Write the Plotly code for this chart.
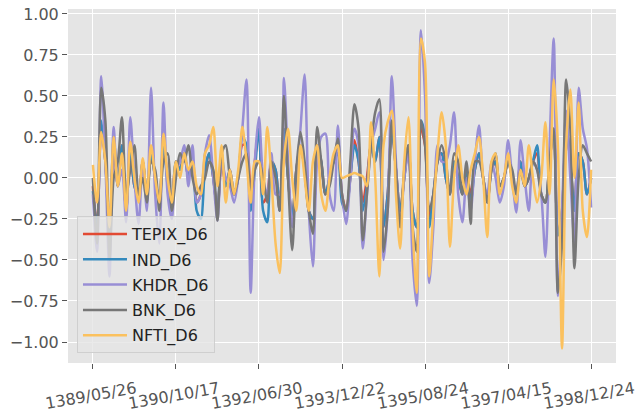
import plotly.graph_objects as go

# sample positions (trading-day index) and date tick labels
x_index = list(range(0, 1801, 15))
tick_pos = [0, 300, 600, 900, 1200, 1500, 1800]
tick_labels = ["1389/05/26", "1390/10/17", "1392/06/30", "1393/12/22",
               "1395/08/24", "1397/04/15", "1398/12/24"]

TEPIX_D6 = [-0.05, -0.3, 0.3, 0.1, -0.35, 0.2, -0.05, 0.2, -0.2, 0.15,
            -0.05, -0.1, 0.1, -0.1, 0.15, 0.0, -0.15, 0.2, 0.0, -0.15,
            0.1, 0.05, 0.15, 0.0, 0.1, -0.15, -0.1, 0.05, 0.15, 0.0,
            -0.2, 0.1, -0.05, 0.05, -0.1, 0.0, 0.2, 0.2, -0.15, 0.1,
            0.3, -0.15, -0.1, 0.1, 0.05, -0.2, 0.3, 0.0, -0.25, 0.05,
            0.2, 0.05, -0.2, -0.25, 0.2, 0.1, -0.1, 0.0, 0.1, 0.15,
            -0.1, -0.2, 0.0, 0.23, 0.1, -0.15, 0.0, 0.2, 0.1, 0.25,
            -0.3, -0.1, 0.3, 0.05, -0.2, 0.0, 0.2, -0.2, -0.3, 0.3,
            0.2, -0.25, -0.1, 0.1, 0.15, 0.0, -0.1, 0.1, 0.0, -0.1,
            0.05, -0.1, 0.05, 0.15, 0.0, -0.15, 0.05, 0.1, -0.05, 0.0,
            0.1, 0.0, -0.1, 0.1, -0.05, 0.0, 0.1, 0.15, -0.1, -0.15,
            0.1, 0.3, -0.35, -0.2, 0.3, 0.1, -0.2, 0.15, 0.1, -0.1,
            0.0]
IND_D6 = [-0.08, -0.3, 0.35, 0.1, -0.35, 0.25, -0.05, 0.2, -0.2, 0.15,
          -0.05, -0.12, 0.1, -0.1, 0.15, 0.0, -0.15, 0.22, -0.05, -0.2,
          0.1, 0.05, 0.15, 0.0, 0.1, -0.2, -0.25, 0.05, 0.15, 0.0,
          -0.2, 0.15, -0.05, 0.05, -0.1, 0.0, 0.25, 0.2, -0.2, 0.05,
          0.3, -0.2, -0.27, 0.1, 0.05, -0.2, 0.3, 0.0, -0.25, 0.05,
          0.2, 0.05, -0.2, -0.25, 0.2, 0.1, -0.1, 0.0, 0.1, 0.15,
          -0.15, -0.2, 0.0, 0.2, 0.1, -0.2, -0.05, 0.2, 0.1, 0.25,
          -0.3, -0.1, 0.3, 0.05, -0.2, 0.0, 0.2, -0.2, -0.3, 0.35,
          0.25, -0.3, -0.1, 0.1, 0.15, 0.0, -0.1, 0.1, 0.0, -0.1,
          0.05, -0.15, 0.05, 0.15, 0.0, -0.15, 0.05, 0.1, -0.05, 0.0,
          0.1, 0.0, -0.1, 0.1, -0.05, 0.0, 0.1, 0.2, -0.1, -0.15,
          0.1, 0.3, -0.35, -0.2, 0.3, 0.1, -0.2, 0.15, 0.1, -0.1,
          0.0]
KHDR_D6 = [-0.1, -0.45, 0.62, 0.1, -0.6, 0.31, -0.05, 0.05, -0.27, 0.37,
           0.0, -0.28, 0.1, -0.2, 0.55, -0.1, -0.4, 0.46, -0.1, -0.25,
           0.05, 0.1, 0.2, -0.05, 0.2, -0.15, -0.1, 0.15, 0.26, 0.0,
           -0.26, 0.1, 0.0, -0.05, -0.15, 0.0, 0.3, 0.6, -0.7, 0.1,
           0.37, 0.0, -0.1, 0.15, -0.1, -0.1, 0.61, 0.1, -0.3, 0.0,
           0.3, 0.63, -0.2, -0.54, 0.1, 0.25, 0.27, -0.1, -0.2, 0.32,
           -0.1, -0.28, 0.0, 0.3, 0.2, -0.43, -0.1, 0.2, 0.3, 0.4,
           -0.5, -0.2, 0.62, 0.1, -0.3, 0.0, 0.15, -0.5, -0.78, 0.9,
           0.5, -0.64, -0.3, 0.2, 0.1, 0.1, 0.2, 0.4, -0.1, -0.27,
           0.0, -0.2, 0.1, 0.32, 0.0, -0.1, 0.1, 0.0, -0.15, -0.05,
           0.23, 0.0, -0.21, 0.23, 0.0, -0.2, 0.1, 0.05, -0.1, -0.48,
           0.2, 0.85, -0.72, -0.2, 0.41, 0.0, -0.39, 0.55, 0.3, 0.18,
           -0.18]
BNK_D6 = [0.0, -0.4, 0.55, 0.35, -0.5, 0.0, 0.1, 0.37, -0.1, 0.05,
          0.2, -0.1, 0.0, -0.15, 0.1, 0.05, -0.2, 0.1, 0.15, -0.2,
          0.0, 0.15, 0.1, 0.2, 0.0, -0.1, -0.05, 0.0, 0.1, 0.05,
          -0.26, 0.15, 0.2, 0.0, -0.1, 0.0, 0.1, 0.15, -0.1, 0.05,
          0.1, 0.0, -0.15, 0.1, 0.0, -0.2, 0.5, 0.0, -0.44, 0.05,
          0.28, 0.1, -0.2, -0.34, 0.31, 0.1, -0.1, -0.05, 0.1, 0.24,
          -0.1, -0.2, 0.1, 0.45, 0.3, -0.38, -0.1, 0.2, 0.4, 0.48,
          -0.45, -0.2, 0.35, 0.05, -0.3, 0.05, 0.2, -0.3, -0.45, 0.35,
          0.2, -0.2, -0.1, 0.1, 0.2, 0.1, -0.1, 0.15, 0.1, -0.1,
          0.1, -0.28, 0.1, 0.1, 0.0, -0.15, 0.05, 0.15, -0.05, 0.0,
          0.1, 0.05, -0.1, 0.05, -0.05, 0.0, 0.1, 0.05, -0.1, -0.15,
          0.1, 0.3, -0.7, -0.4, 0.6, 0.3, -0.55, 0.0, 0.2, 0.15,
          0.1]
NFTI_D6 = [0.08, -0.15, 0.28, 0.1, -0.3, 0.25, -0.05, 0.15, -0.2, 0.22,
           0.0, -0.15, 0.12, -0.1, 0.2, 0.0, -0.15, 0.27, 0.0, -0.15,
           0.1, 0.0, 0.15, 0.05, 0.1, -0.05, -0.1, 0.15, 0.2, 0.31,
           -0.05, 0.2, -0.15, 0.05, -0.1, 0.05, 0.31, 0.1, -0.15, 0.1,
           0.1, -0.1, 0.31, 0.0, -0.4, -0.58, 0.1, 0.3, 0.0, -0.2,
           0.2, 0.0, -0.2, 0.1, 0.2, -0.1, -0.2, 0.0, 0.15, 0.2,
           0.0, 0.01, 0.02, 0.03, 0.02, 0.01, -0.05, 0.34, 0.0, -0.6,
           0.2, 0.34, 0.41, -0.1, -0.43, 0.1, 0.37, -0.3, -0.7, 0.85,
           0.7, -0.6, -0.2, 0.15, 0.4, 0.2, -0.42, 0.0, 0.2, 0.0,
           -0.1, 0.05, 0.15, 0.25, 0.0, -0.36, 0.1, 0.15, -0.1, 0.0,
           0.15, -0.05, -0.15, 0.05, -0.05, 0.2, 0.0, -0.15, 0.0, 0.34,
           -0.1, 0.6, 0.2, -1.04, 0.2, 0.54, 0.0, 0.46, -0.2, -0.36,
           0.05]

series = [("TEPIX_D6", TEPIX_D6, "#E24A33"),
          ("IND_D6", IND_D6, "#348ABD"),
          ("KHDR_D6", KHDR_D6, "#988ED5"),
          ("BNK_D6", BNK_D6, "#777777"),
          ("NFTI_D6", NFTI_D6, "#FBC15E")]

fig = go.Figure()
for name, vals, col in series:
    fig.add_trace(go.Scatter(x=x_index, y=vals, mode="lines", name=name,
                             legendgroup=name,
                             line=dict(color=col, width=2.5, shape="spline", smoothing=0.8)))

font = "DejaVu Sans"
fig.update_layout(
    width=641, height=412,
    margin=dict(l=68, r=25, t=9, b=49),
    paper_bgcolor="white", plot_bgcolor="#E5E5E5",
    font=dict(family=font, size=16, color="#555555"),
    showlegend=True,
    legend=dict(x=0.0164, y=0.028, xanchor="left", yanchor="bottom",
                bgcolor="rgba(229,229,229,0.8)", bordercolor="rgba(204,204,204,0.9)",
                borderwidth=1, font=dict(family=font, size=16, color="#222222"),
                tracegroupgap=1.5, itemwidth=44),
)
fig.update_xaxes(range=[-90, 1890], tickvals=tick_pos, ticktext=tick_labels,
                 tickangle=-10, ticklabelshift=43, ticklabelstandoff=5,
                 automargin=False,
                 showgrid=True, gridcolor="white", gridwidth=1.3,
                 zeroline=False, ticks="outside", ticklen=5, tickcolor="#555555",
                 tickfont=dict(family=font, size=16, color="#555555"), showline=False)
fig.update_yaxes(range=[-1.128, 1.03], tickvals=[-1.0, -0.75, -0.5, -0.25, 0.0, 0.25, 0.5, 0.75, 1.0],
                 tickformat=".2f", automargin=False,
                 showgrid=True, gridcolor="white", gridwidth=1.3,
                 zeroline=False, ticks="outside", ticklen=5, tickcolor="#555555",
                 tickfont=dict(family=font, size=16, color="#555555"), showline=False)

fig.write_html("out.html")
